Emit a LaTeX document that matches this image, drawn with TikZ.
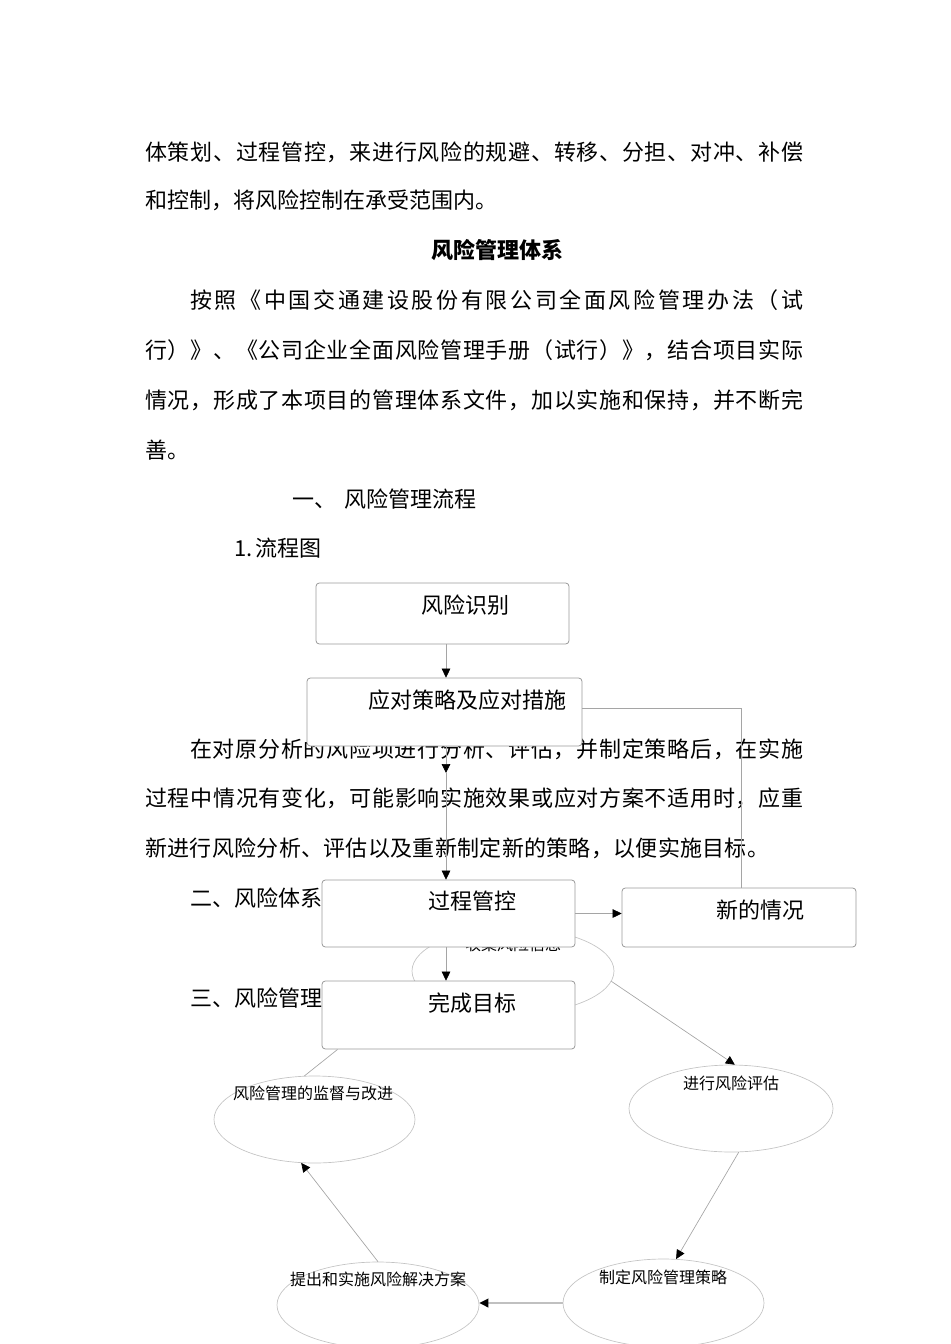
\documentclass[tikz,border=0pt]{standalone}
\usepackage{fontspec}
\setmainfont{Noto Sans CJK SC}
\usetikzlibrary{shapes.geometric,arrows.meta}

\definecolor{boxline}{RGB}{155,155,155}
\definecolor{ovalline}{RGB}{195,195,195}
\definecolor{linkline}{RGB}{165,165,165}

% spread the characters of one line over a given width
\newcommand\spreadline[2]{\makebox[#1][s]{\spreadloop#2\relax}}
\def\spreadloop#1#2{#1\ifx\relax#2\else\hfil\expandafter\spreadloop\expandafter#2\fi}

\begin{document}
\begin{tikzpicture}[x=0.75pt,y=-0.75pt,
		bodytext/.style={anchor=west,inner sep=0pt,font=\fontsize{16.5}{20}\selectfont},
		flowbox/.style={draw=boxline,fill=white,rounded corners=2.5pt,line width=0.6pt,inner sep=0pt},
		flowtext/.style={inner sep=0pt,font=\fontsize{16.5}{20}\selectfont},
		ovalnode/.style={ellipse,draw=ovalline,line width=0.5pt,inner sep=0pt},
		ovaltext/.style={inner sep=0pt,font=\fontsize{12}{14}\selectfont},
		link/.style={draw=linkline,line width=0.5pt},
		flowarrow/.style={link,-{Triangle[length=6.75pt,width=6.5pt,color=black]}}]
		
		\useasboundingbox (0,0) rectangle (950,1344);
		\clip (0,0) rectangle (950,1344);
		
		
		% page text
		\node[bodytext] (l1) at (145,152) {\spreadline{493.5pt}{体策划、过程管控，来进行风险的规避、转移、分担、对冲、补偿}};
		\node[bodytext] (l2) at (145,200) {和控制，将风险控制在承受范围内。};
		\node[bodytext,anchor=center,font=\fontsize{16.5}{20}\selectfont\bfseries] (head) at (497.5,250) {风险管理体系};
		\node[bodytext] (l4) at (190,300) {\spreadline{459.75pt}{按照《中国交通建设股份有限公司全面风险管理办法（试}};
		\node[bodytext] (l5) at (145,350) {\spreadline{493.5pt}{行）》、《公司企业全面风险管理手册（试行）》，结合项目实际}};
		\node[bodytext] (l6) at (145,400) {\spreadline{493.5pt}{情况，形成了本项目的管理体系文件，加以实施和保持，并不断完}};
		\node[bodytext] (l7) at (145,450) {善。};
		\node[bodytext] (sec1) at (292,499) {一、\hspace{6pt}风险管理流程};
		\node[bodytext] (sub1) at (234,548) {1.\hspace{2pt}流程图};
		\node[bodytext] (l10) at (190,749) {\spreadline{459.75pt}{在对原分析的风险项进行分析、评估，并制定策略后，在实施}};
		\node[bodytext] (l11) at (145,798) {\spreadline{493.5pt}{过程中情况有变化，可能影响实施效果或应对方案不适用时，应重}};
		\node[bodytext] (l12) at (145,848) {\spreadline{468pt}{新进行风险分析、评估以及重新制定新的策略，以便实施目标。}};
		\node[bodytext] (sec2) at (190,898) {二、风险体系};
		\node[bodytext] (sec3) at (190,998) {三、风险管理};
		
		
		% oval behind the boxes
		\node[ovalnode,minimum width=151.5pt,minimum height=64.5pt] (collect) at (513,971) {};
		\node[ovaltext] (collecttxt) at (513,944) {收集风险信息};
		
		
		% flow boxes
		\node[flowbox,minimum width=189.75pt,minimum height=45.75pt] (ident) at (442.5,613.5) {};
		\node[flowbox,minimum width=206.25pt,minimum height=51pt] (resp) at (444.5,712) {};
		\node[flowbox,minimum width=189.75pt,minimum height=50.25pt] (ctrl) at (448.5,913.5) {};
		\node[flowbox,minimum width=175.5pt,minimum height=44.25pt] (newc) at (739,917.5) {};
		\node[flowbox,minimum width=189.75pt,minimum height=51pt] (goal) at (448.5,1015) {};
		
		\node[flowtext] (identtxt) at (465,605) {风险识别};
		\node[flowtext] (resptxt) at (467,700) {应对策略及应对措施};
		\node[flowtext] (ctrltxt) at (472,901) {过程管控};
		\node[flowtext] (newctxt) at (760,910) {新的情况};
		\node[flowtext] (goaltxt) at (472,1003) {完成目标};
		
		
		% cycle ovals
		\node[ovalnode,minimum width=153pt,minimum height=65.25pt] (assess) at (731,1108.5) {};
		\node[ovalnode,minimum width=150.75pt,minimum height=66pt] (strategy) at (663.5,1303) {};
		\node[ovalnode,minimum width=151.5pt,minimum height=64.5pt] (solve) at (378,1305) {};
		\node[ovalnode,minimum width=150.75pt,minimum height=65.25pt] (monitor) at (314.5,1119.5) {};
		
		\node[ovaltext] (assesstxt) at (731,1083) {进行风险评估};
		\node[ovaltext] (strategytxt) at (663,1277) {制定风险管理策略};
		\node[ovaltext] (solvetxt) at (378,1279) {提出和实施风险解决方案};
		\node[ovaltext] (monitortxt) at (313,1093) {风险管理的监督与改进};
		
		
		% connectors
		\coordinate (axis) at (446,0);
		\coordinate (hidden) at (446,773);
		\coordinate (turn) at (741,708);
		
		\draw[flowarrow] (ident.south -| axis) -- (resp.north -| axis);
		\draw[flowarrow] (resp.south -| axis) -- (hidden);
		\draw[flowarrow] (hidden) -- (ctrl.north -| axis);
		\draw[flowarrow] (ctrl.south -| axis) -- (goal.north -| axis);
		\draw[flowarrow] (ctrl.east) -- (ctrl.east -| newc.west);
		\draw[link] (resp.east |- turn) -- (turn) -- (newc.north -| turn);
		
		\draw[flowarrow] (collect.-6) -- (assess.85);
		\draw[flowarrow] (assess.-80) -- (strategy.74);
		\draw[flowarrow,draw=linkline!70,line width=1.2pt] (strategy.west) -- (strategy.west -| solve.east);
		\draw[flowarrow] (solve.north) -- (monitor.-107);
		\draw[link] (monitor.103) -- ([xshift=12pt]goal.south west);
		
		
	\end{tikzpicture}
\end{document}
